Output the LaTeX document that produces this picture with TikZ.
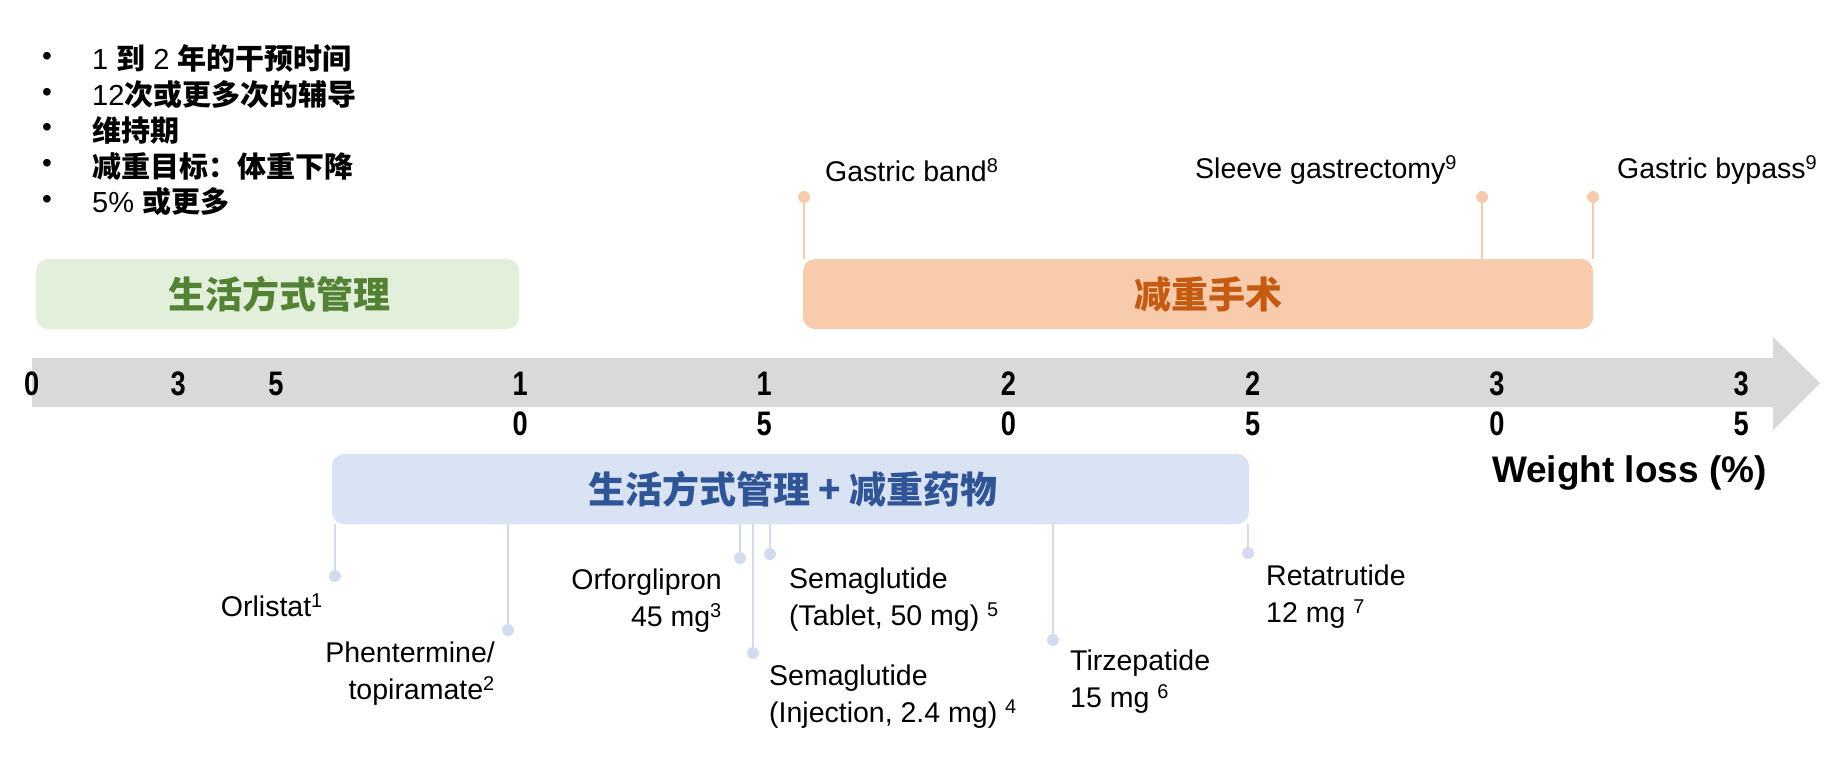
\documentclass[tikz,border=0pt]{standalone}
\usepackage{fontspec}
\setmainfont{Liberation Sans}
\newfontfamily\cjk{Noto Sans CJK SC}
\usetikzlibrary{positioning}
\definecolor{axisgray}{HTML}{D9D9D9}
\definecolor{lifefill}{HTML}{E2EFDA}
\definecolor{lifetext}{HTML}{548235}
\definecolor{surgfill}{HTML}{F8CBAD}
\definecolor{surgtext}{HTML}{C55A11}
\definecolor{drugfill}{HTML}{DAE3F3}
\definecolor{drugtext}{HTML}{2F5597}
\definecolor{drugpin}{HTML}{D3DCEF}
\newcommand\fs[2]{\fontsize{#1}{#2}\selectfont}
\newcommand\lat[1]{{\normalfont\mdseries #1}}
\begin{document}
\begin{tikzpicture}[x=1pt,y=-1pt,line join=round]
	\tikzset{
		band/.style={rounded corners=12pt,inner sep=0},
		bandtext/.style={font=\fs{37}{44}\cjk\bfseries},
		lbl/.style={font=\fs{28.5}{37},inner sep=0},
		tick/.style={font=\fs{34}{40}\bfseries,inner sep=0,xscale=0.8},
		orangepin/.style={circle,fill=surgfill,inner sep=0,minimum size=12pt},
		bluepin/.style={circle,fill=drugpin,inner sep=0,minimum size=12pt}
	}
	\useasboundingbox (0,0) rectangle (1841,776);
	% list at top left
	\foreach \t [count=\i] in {{\lat{1 }到\lat{ 2 }年的干预时间},{\lat{12}次或更多次的辅导},{维持期},{减重目标：体重下降},{\lat{5\% }或更多}}{
		\node[font=\fs{28}{34},inner sep=0] (dot\i) at (47,{59+35.7*(\i-1)}) {•};
		\node[font=\fs{29}{34}\cjk\bfseries,anchor=west,inner sep=0] (item\i) at (92,{59+35.7*(\i-1)}) {\t};
	}
	% axis
	\fill[axisgray] (32,358) -- (1773,358) -- (1773,337) -- (1820,383) -- (1773,430) -- (1773,407) -- (32,407) -- cycle;
	\foreach \v/\a/\b in {0/0/,3/3/,5/5/,10/1/0,15/1/5,20/2/0,25/2/5,30/3/0,35/3/5}{
		\node[tick] (ta\v) at ({31.7+48.84*\v},384) {\a};
		\node[tick] (tb\v) at ({31.7+48.84*\v},424) {\b};
	}
	\node[font=\fs{37}{40}\bfseries,anchor=east,inner sep=0] (wl) at (1767,473) {Weight loss (\%)};
	% bands
	\fill[lifefill,band] (36,259) rectangle (519,329);
	\node[bandtext,text=lifetext] (life) at (279,294) {生活方式管理};
	\fill[surgfill,band] (803,259) rectangle (1593,329);
	\node[bandtext,text=surgtext] (surg) at (1208,294) {减重手术};
	\fill[drugfill,band] (332,454) rectangle (1249,524);
	\node[bandtext,text=drugtext] (drug) at (793,489) {生活方式管理 + 减重药物};
	\coordinate (surgtop) at (0,259);
	\coordinate (drugbot) at (0,524);
	% surgery pins
	\foreach \n/\x in {band/804,sleeve/1482,bypass/1593}{
		\node[orangepin] (p\n) at (\x,197) {};
		\draw[surgfill,line width=2pt] (p\n) -- (p\n |- surgtop);
	}
	\node[lbl,anchor=west] (lband) at (825,170) {Gastric band\textsuperscript{8}};
	\node[lbl,anchor=west] (lsleeve) at (1195,170) {Sleeve gastrectomy\textsuperscript{9}};
	\node[lbl,anchor=west] (lbypass) at (1617,170) {Gastric bypass\textsuperscript{9}};
	% drug pins
	\foreach \n/\x/\y in {orl/335/576,phen/508/630,orf/740/558,semi/753/653,semt/770/554,tirz/1053/640,reta/1248/553}{
		\node[bluepin] (p\n) at (\x,\y) {};
		\draw[drugpin,line width=2pt] (p\n) -- (p\n |- drugbot);
	}
	\node[lbl,anchor=east] (lorl) at (323,605) {Orlistat\textsuperscript{1}};
	\node[lbl,anchor=east,align=right] (lphen) at (495,674) {Phentermine/\\topiramate\textsuperscript{2}};
	\node[lbl,anchor=east,align=right] (lorf) at (722,601) {Orforglipron\\45 mg\textsuperscript{3}};
	\node[lbl,anchor=west,align=left] (lsemi) at (769,697) {Semaglutide\\(Injection, 2.4 mg) \textsuperscript{4}};
	\node[lbl,anchor=west,align=left] (lsemt) at (789,600) {Semaglutide\\(Tablet, 50 mg) \textsuperscript{5}};
	\node[lbl,anchor=west,align=left] (ltirz) at (1070,682) {Tirzepatide\\15 mg \textsuperscript{6}};
	\node[lbl,anchor=west,align=left] (lreta) at (1266,597) {Retatrutide\\12 mg \textsuperscript{7}};
\end{tikzpicture}
\end{document}
